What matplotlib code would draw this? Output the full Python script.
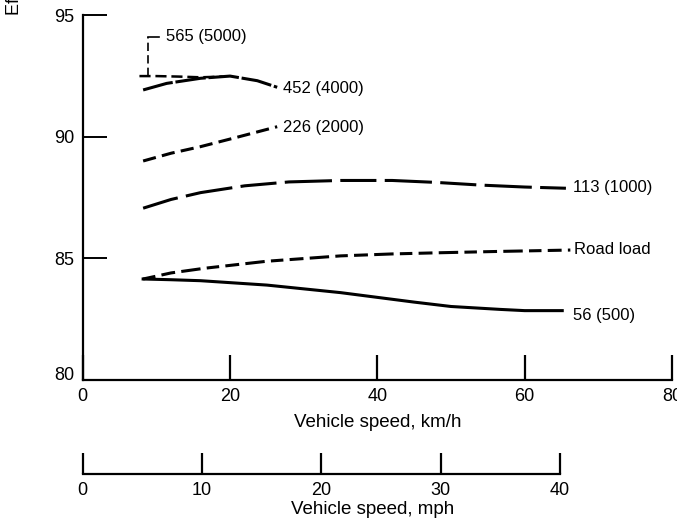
import numpy as np
import matplotlib.pyplot as plt
import matplotlib.transforms as mtransforms

plt.rcParams['font.family'] = ['Liberation Sans Narrow', 'Liberation Sans', 'DejaVu Sans']
plt.rcParams['lines.scale_dashes'] = False

# Efficiency curves vs vehicle speed (km/h), one per torque level N-m (lb-in.)
spd_5000 = [7.7, 10, 13, 16, 19]
eff_5000 = [92.49, 92.49, 92.47, 92.44, 92.47]

spd_4000 = [8.2, 11.4, 16, 20, 23.7, 26.4]
eff_4000 = [91.92, 92.19, 92.40, 92.49, 92.30, 92.03]

spd_2000 = [8.2, 12, 16, 21, 26.4]
eff_2000 = [89.00, 89.32, 89.59, 89.98, 90.41]

spd_1000 = [8.2, 12, 16, 22, 28, 35, 42, 48, 54, 60, 65.6]
eff_1000 = [87.06, 87.42, 87.70, 87.98, 88.14, 88.20, 88.20, 88.12, 88.01, 87.93, 87.88]

spd_road = [8.2, 12, 16.5, 25, 35, 42, 48.6, 56, 66.2]
eff_road = [84.15, 84.40, 84.59, 84.88, 85.10, 85.18, 85.23, 85.28, 85.34]

spd_500 = [8.2, 12, 16, 25, 35, 45, 50, 56.7, 60, 65.1]
eff_500 = [84.15, 84.12, 84.08, 83.90, 83.59, 83.20, 83.02, 82.90, 82.85, 82.85]

km_ticks = [0, 20, 40, 60, 80]
mph_ticks = [0, 10, 20, 30, 40]
eff_ticks = [80, 85, 90, 95]

fig = plt.figure(figsize=(6.77, 5.27), dpi=100)
ax = fig.add_axes([0.1222, 0.279, 0.8704, 0.6925])
ax.set_xlim(0, 80)
ax.set_ylim(80, 95)
for s in ['top', 'right']:
    ax.spines[s].set_visible(False)
for s in ['left', 'bottom']:
    ax.spines[s].set_linewidth(1.6)

lw = 2.2
ax.plot(spd_500, eff_500, color='black', lw=lw)
ax.plot(spd_road, eff_road, color='black', lw=lw, dashes=(9, 4.5, 10, 4.5, 14, 4.5))
ax.plot(spd_1000, eff_1000, color='black', lw=lw, dashes=(26, 6, 34, 6))
ax.plot(spd_2000, eff_2000, color='black', lw=lw, dashes=(9.5, 4.5))
ax.plot(spd_4000, eff_4000, color='black', lw=lw, dashes=(22, 2))
ax.plot(spd_5000, eff_5000, color='black', lw=1.8, dashes=(8, 3.5))

# leader line to the 5000 lb-in. curve
ax.plot([8.9, 8.9], [92.5, 94.1], color='black', lw=1.2, dashes=(6, 3))
ax.plot([8.9, 10.4], [94.1, 94.1], color='black', lw=1.2)

fs = 12
ax.text(11.3, 94.1, '565 (5000)', fontsize=fs, va='center', ha='left')
ax.text(27.2, 92.0, '452 (4000)', fontsize=fs, va='center', ha='left')
ax.text(27.2, 90.38, '226 (2000)', fontsize=fs, va='center', ha='left')
ax.text(66.5, 87.9, '113 (1000)', fontsize=fs, va='center', ha='left')
ax.text(66.7, 85.35, 'Road load', fontsize=fs, va='center', ha='left')
ax.text(66.5, 82.65, '56 (500)', fontsize=fs, va='center', ha='left')

tfs = 13
ax.set_xticks(km_ticks)
ax.set_yticks(eff_ticks)
ax.tick_params(axis='x', direction='in', length=18, width=1.6, pad=6, labelsize=tfs)
ax.tick_params(axis='y', direction='in', length=17.5, width=1.4, pad=6, labelsize=tfs)
ax.set_xlabel('Vehicle speed, km/h', fontsize=13.5, labelpad=6)

# lowest efficiency label sits a little above its tick
lab80 = ax.get_yticklabels()[0]
lab80.set_transform(lab80.get_transform() +
                    mtransforms.ScaledTranslation(0, 5 / 72, fig.dpi_scale_trans))

fig.text(0.022, 1 - 15 / 527, 'Efficiency, percent', rotation=90,
         fontsize=tfs, ha='center', va='bottom')

# secondary speed scale in mph
ax2 = fig.add_axes([0.1222, 1 - 474 / 527, (560 - 82.7) / 677, 0.0001])
ax2.set_xlim(0, 40)
ax2.set_ylim(0, 1)
for s in ['top', 'right', 'left']:
    ax2.spines[s].set_visible(False)
ax2.spines['bottom'].set_linewidth(1.6)
ax2.set_yticks([])
ax2.set_xticks(mph_ticks)
ax2.tick_params(axis='x', direction='in', length=15, width=1.6, pad=6, labelsize=tfs)
fig.text(373 / 677, 1 - 510 / 527, 'Vehicle speed, mph', fontsize=13.5,
         ha='center', va='center')

fig.savefig('out.png', dpi=100)
